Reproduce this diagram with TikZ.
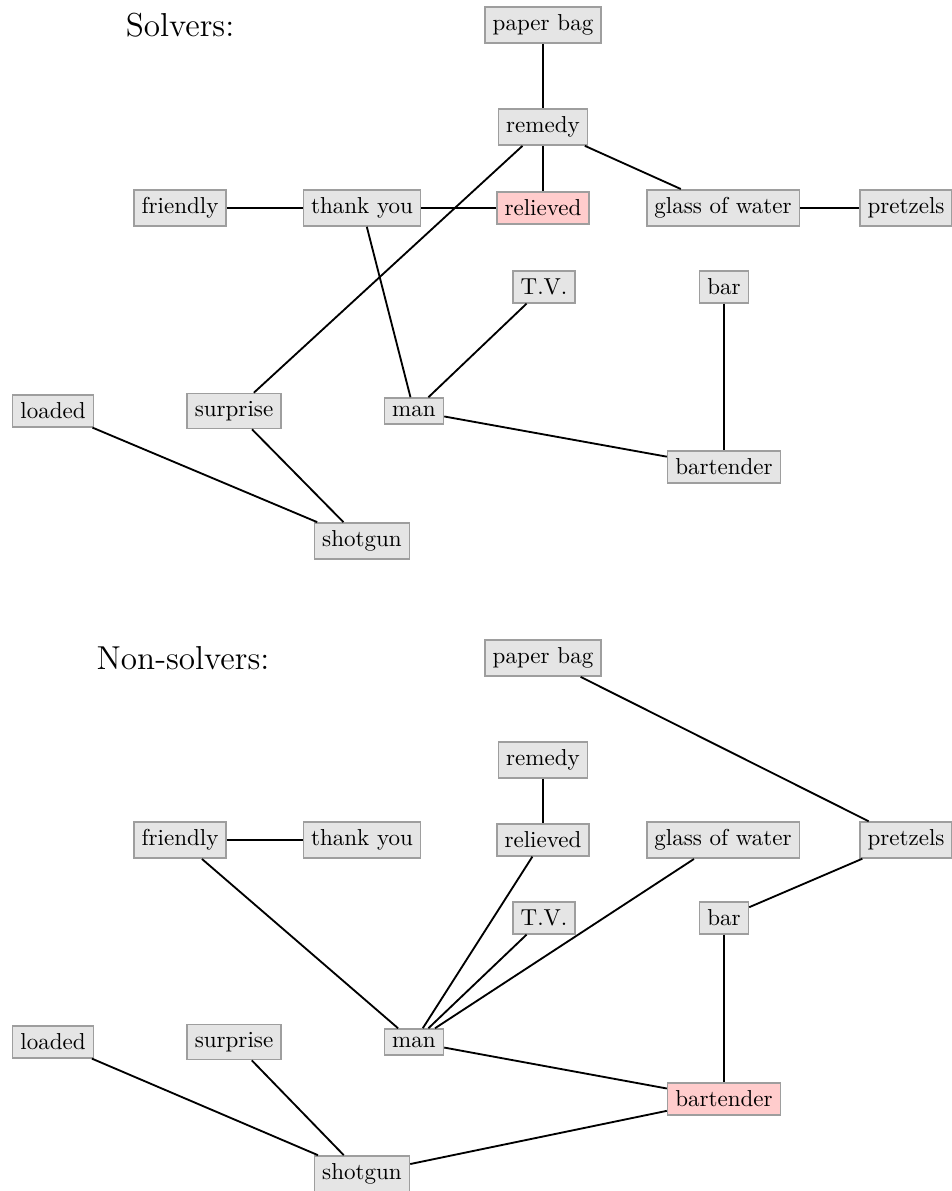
\documentclass[tikz,border=0pt]{standalone}
\begin{document}
\begin{tikzpicture}[x=0.434pt,y=-0.434pt,
  wbox/.style={draw=black!38,fill=black!10,line width=0.7pt},
  hbox/.style={draw=black!38,fill=red!20,line width=0.7pt},
  edge/.style={line width=0.8pt}]
\useasboundingbox (0,0) rectangle (952,1191);
% ---------- Solvers ----------
\node (st) at (180,25) {\Large Solvers:};
\node[wbox] (spb) at (543,25) {paper bag};
\node[wbox] (srm) at (543,127) {remedy};
\node[wbox] (sfr) at (180,208) {friendly};
\node[wbox] (sty) at (362,208) {thank you};
\node[hbox] (srl) at (543,208) {relieved};
\node[wbox] (sgw) at (723,208) {glass of water};
\node[wbox] (spr) at (906,208) {pretzels};
\node[wbox] (stv) at (544,287) {T.V.};
\node[wbox] (sba) at (724,287) {bar};
\node[wbox] (slo) at (53,411) {loaded};
\node[wbox] (ssu) at (234,411) {surprise};
\node[wbox] (sma) at (414,411) {man};
\node[wbox] (sbt) at (724,467) {bartender};
\node[wbox] (ssh) at (362,541) {shotgun};
\draw[edge] (spb) -- (srm);
\draw[edge] (srm) -- (srl);
\draw[edge] (srm) -- (sgw);
\draw[edge] (srm) -- (ssu);
\draw[edge] (sfr) -- (sty);
\draw[edge] (sty) -- (srl);
\draw[edge] (sty) -- (sma);
\draw[edge] (sgw) -- (spr);
\draw[edge] (stv) -- (sma);
\draw[edge] (sba) -- (sbt);
\draw[edge] (sma) -- (sbt);
\draw[edge] (slo) -- (ssh);
\draw[edge] (ssu) -- (ssh);
% ---------- Non-solvers ----------
\node (nt) at (183,658) {\Large Non-solvers:};
\node[wbox] (npb) at (543,658) {paper bag};
\node[wbox] (nrm) at (543,760) {remedy};
\node[wbox] (nfr) at (180,840) {friendly};
\node[wbox] (nty) at (362,840) {thank you};
\node[wbox] (nrl) at (543,840) {relieved};
\node[wbox] (ngw) at (723,840) {glass of water};
\node[wbox] (npr) at (906,840) {pretzels};
\node[wbox] (ntv) at (544,918) {T.V.};
\node[wbox] (nba) at (724,918) {bar};
\node[wbox] (nlo) at (53,1042) {loaded};
\node[wbox] (nsu) at (234,1042) {surprise};
\node[wbox] (nma) at (414,1042) {man};
\node[hbox] (nbt) at (724,1099) {bartender};
\node[wbox] (nsh) at (362,1174) {shotgun};
\draw[edge] (npb) -- (npr);
\draw[edge] (nrm) -- (nrl);
\draw[edge] (nfr) -- (nty);
\draw[edge] (nfr) -- (nma);
\draw[edge] (nrl) -- (nma);
\draw[edge] (ntv) -- (nma);
\draw[edge] (ngw) -- (nma);
\draw[edge] (npr) -- (nba);
\draw[edge] (nba) -- (nbt);
\draw[edge] (nma) -- (nbt);
\draw[edge] (nlo) -- (nsh);
\draw[edge] (nsu) -- (nsh);
\draw[edge] (nsh) -- (nbt);
\end{tikzpicture}
\end{document}
